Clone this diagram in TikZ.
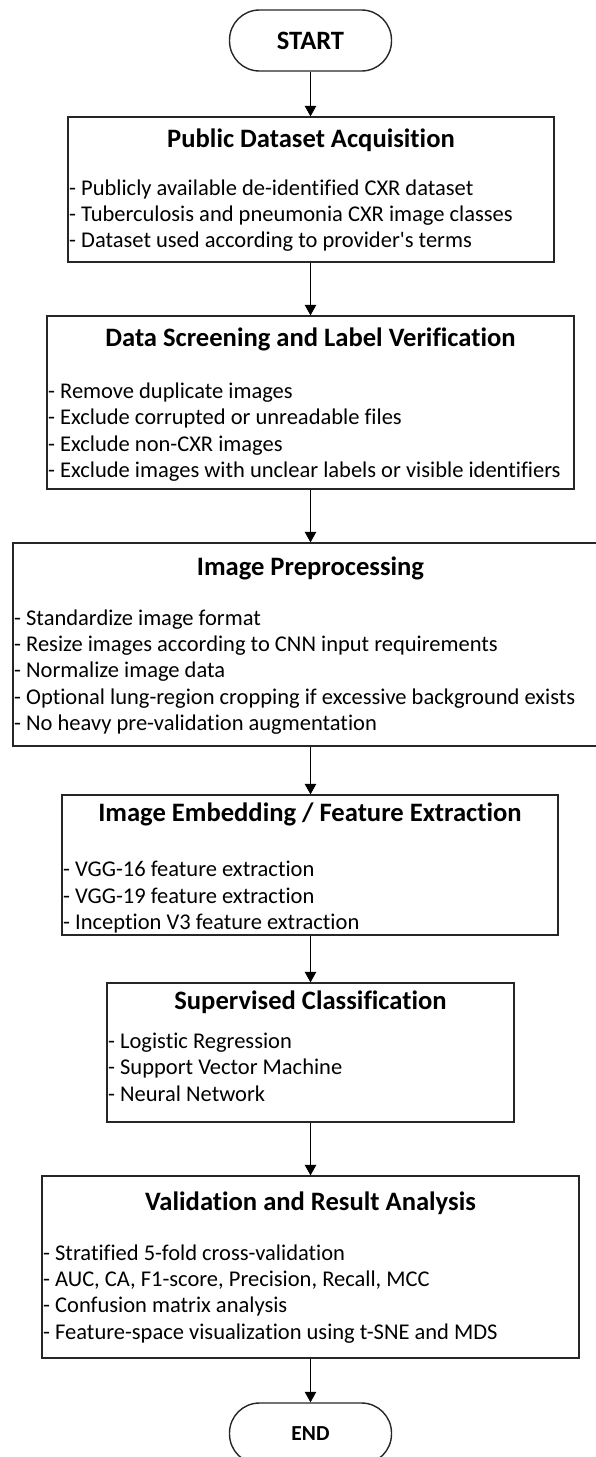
\documentclass[tikz,border=0pt]{standalone}
\usepackage{fontspec}
\setmainfont{Carlito}[Ligatures={TeXOff,CommonOff}]
\usetikzlibrary{arrows.meta}

\tikzset{
  stepbox/.style={draw=black!85, line width=1.3pt, rectangle, inner sep=0pt},
  terminal/.style={draw=black!85, line width=1.4pt, rectangle, rounded corners=30pt,
    minimum width=162pt, minimum height=61pt, inner sep=0pt},
  boxtitle/.style={inner sep=0pt, anchor=base, font=\fontsize{26.6}{30}\selectfont\bfseries},
  boxitems/.style={inner sep=0pt, anchor=base west, font=\fontsize{22.5}{26.4}\selectfont},
  flow/.style={draw=black, line width=1pt, -{Triangle[width=11.5pt,length=10.5pt]}}
}
\newcommand{\itemlist}[1]{\begin{tabular}[t]{@{}l@{}}#1\end{tabular}}

\begin{document}
\begin{tikzpicture}[x=1pt,y=-1pt]
\useasboundingbox (0,0) rectangle (595,1457);

% terminals
\node[terminal] (start) at (310.5,40.5) {};
\node[inner sep=0pt, anchor=base, font=\fontsize{26.5}{30}\selectfont\bfseries] (starttxt) at (310.5,49.3) {START};
\node[terminal] (end) at (310.5,1433.5) {};
\node[inner sep=0pt, anchor=base, font=\fontsize{21.4}{26}\selectfont\bfseries] (endtxt) at (310.5,1440.7) {END};

% process boxes
\node[stepbox, minimum width=486pt, minimum height=145pt] (acq) at (311,189.5) {};
\node[stepbox, minimum width=527pt, minimum height=173pt] (screen) at (310.5,402.5) {};
\node[stepbox, minimum width=595pt, minimum height=203pt] (prep) at (310.5,644.5) {};
\node[stepbox, minimum width=496pt, minimum height=140pt] (embed) at (310,865) {};
\node[stepbox, minimum width=407pt, minimum height=139pt] (classify) at (310.5,1052.5) {};
\node[stepbox, minimum width=537pt, minimum height=182pt] (valid) at (310.5,1267) {};

% titles
\node[boxtitle] (acqT) at (311,147) {Public Dataset Acquisition};
\node[boxtitle] (screenT) at (310.5,346) {Data Screening and Label Verification};
\node[boxtitle] (prepT) at (310.5,575) {Image Preprocessing};
\node[boxtitle] (embedT) at (310,821.7) {Image Embedding / Feature Extraction};
\node[boxtitle] (classifyT) at (310.5,1009.3) {Supervised Classification};
\node[boxtitle] (validT) at (310.5,1210) {Validation and Result Analysis};

% item lists
\node[boxitems] (acqL) at (69,195) {\itemlist{%
- Publicly available de-identified CXR dataset\\
- Tuberculosis and pneumonia CXR image classes\\
- Dataset used according to provider's terms}};
\node[boxitems] (screenL) at (48,398.5) {\itemlist{%
- Remove duplicate images\\
- Exclude corrupted or unreadable files\\
- Exclude non-CXR images\\
- Exclude images with unclear labels or visible identifiers}};
\node[boxitems] (prepL) at (14,625) {\itemlist{%
- Standardize image format\\
- Resize images according to CNN input requirements\\
- Normalize image data\\
- Optional lung-region cropping if excessive background exists\\
- No heavy pre-validation augmentation}};
\node[boxitems] (embedL) at (63,876.7) {\itemlist{%
- VGG-16 feature extraction\\
- VGG-19 feature extraction\\
- Inception V3 feature extraction}};
\node[boxitems] (classifyL) at (108,1048.3) {\itemlist{%
- Logistic Regression\\
- Support Vector Machine\\
- Neural Network}};
\node[boxitems] (validL) at (43,1260) {\itemlist{%
- Stratified 5-fold cross-validation\\
- AUC, CA, F1-score, Precision, Recall, MCC\\
- Confusion matrix analysis\\
- Feature-space visualization using t-SNE and MDS}};

% connectors
\draw[flow] (start.south) -- (start.south |- acq.north);
\draw[flow] (start.south |- acq.south) -- (start.south |- screen.north);
\draw[flow] (start.south |- screen.south) -- (start.south |- prep.north);
\draw[flow] (start.south |- prep.south) -- (start.south |- embed.north);
\draw[flow] (start.south |- embed.south) -- (start.south |- classify.north);
\draw[flow] (start.south |- classify.south) -- (start.south |- valid.north);
\draw[flow] (start.south |- valid.south) -- (end.north);
\end{tikzpicture}
\end{document}
